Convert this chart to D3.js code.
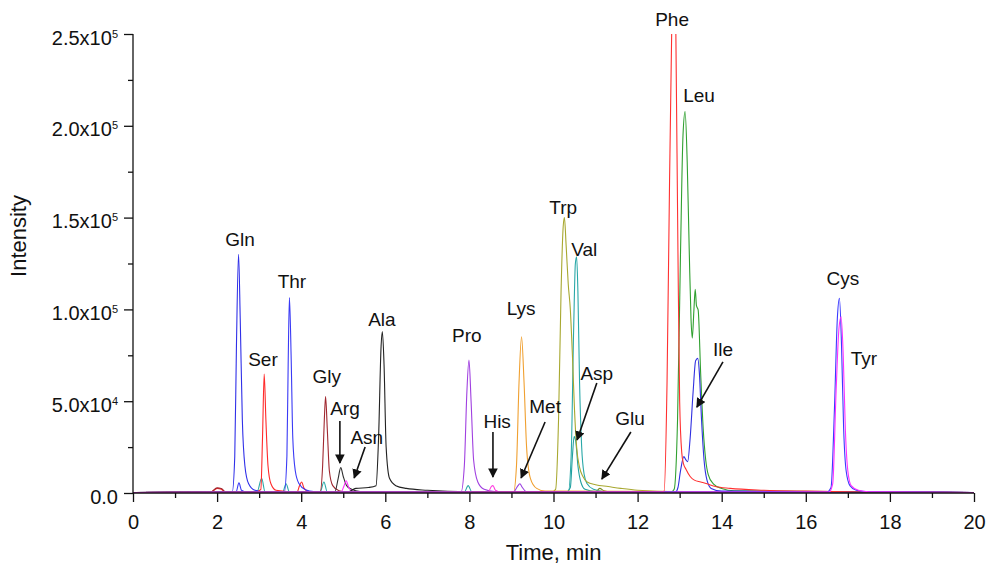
<!DOCTYPE html>
<html>
<head>
<meta charset="utf-8">
<script src="https://cdn.jsdelivr.net/npm/d3@7"></script>
<style>
  body { margin: 0; background: #fff; }
  svg { font-family: "Liberation Sans", Arial, sans-serif; }
  .trace { fill: none; stroke-width: 1.1; }
  .axis path, .axis line { stroke: #111; stroke-width: 1.3; }
  .axis text { font-size: 20px; fill: #111; }
  .peak-label { font-size: 19px; fill: #111; text-anchor: middle; }
  .arrow { stroke: #111; stroke-width: 1.6; }
</style>
</head>
<body>
<div id="vis"></div>
<script>
// time (min) vs intensity
var gln = [[0,300],[2.0,400],[2.36,600],[2.42,20000],[2.46,80000],[2.51,130000],[2.55,95000],[2.6,40000],[2.66,15000],[2.75,5000],[2.9,1500],[3.2,600],[20,300]];
var ser = [[0,300],[1.85,500],[2.0,2500],[2.1,2000],[2.2,500],[2.9,400],[3.04,2000],[3.08,30000],[3.12,64800],[3.16,40000],[3.21,15000],[3.28,5000],[3.4,1500],[3.9,500],[3.96,4000],[4.01,6000],[4.07,2500],[4.2,600],[20,300]];
var thr = [[0,300],[2.45,500],[2.52,5500],[2.58,1500],[2.7,600],[3.6,700],[3.66,20000],[3.69,70000],[3.72,106400],[3.76,75000],[3.8,30000],[3.86,12000],[3.95,5000],[4.1,1800],[4.3,800],[20,300]];
var gly = [[0,300],[1.85,500],[2.0,2800],[2.1,2500],[2.2,600],[4.45,700],[4.51,15000],[4.55,40000],[4.58,52500],[4.62,35000],[4.67,12000],[4.75,4000],[4.9,1200],[5.1,500],[20,300]];
var arg = [[0,300],[4.8,600],[4.88,8000],[4.94,13800],[5.0,9000],[5.08,4000],[5.2,2000],[5.4,800],[20,300]];
var asn = [[0,300],[4.95,500],[5.02,4000],[5.07,6700],[5.13,3000],[5.25,800],[20,300]];
var ala = [[0,300],[5.1,500],[5.3,2500],[5.6,3000],[5.78,4000],[5.84,30000],[5.9,80000],[5.93,87900],[5.97,70000],[6.02,25000],[6.1,8000],[6.25,4000],[6.5,2500],[7.0,1500],[8,700],[20,300]];
var pro = [[0,300],[7.8,500],[7.88,15000],[7.94,55000],[7.99,72400],[8.04,50000],[8.1,18000],[8.2,6000],[8.35,2000],[8.6,800],[20,300]];
var his = [[0,300],[8.45,600],[8.52,3500],[8.56,4000],[8.62,1500],[8.75,500],[20,300]];
var lys = [[0,300],[9.05,500],[9.12,15000],[9.18,60000],[9.24,85100],[9.3,60000],[9.36,25000],[9.45,8000],[9.6,2500],[9.8,1000],[20,300]];
var met = [[0,300],[9.05,500],[9.14,3500],[9.2,5000],[9.26,3000],[9.35,800],[20,300]];
var trp = [[0,300],[9.95,500],[10.05,2000],[10.12,40000],[10.18,110000],[10.23,145000],[10.26,150000],[10.3,135000],[10.35,114000],[10.4,100000],[10.45,75000],[10.5,45000],[10.55,25000],[10.62,14000],[10.7,9000],[10.8,6000],[11.0,4500],[11.3,3500],[11.6,2500],[12,1500],[13,800],[20,300]];
var val = [[0,300],[2.95,500],[3.06,8000],[3.14,600],[3.56,500],[3.64,5000],[3.72,500],[4.45,500],[4.54,6000],[4.62,600],[7.88,500],[7.97,4000],[8.06,500],[10.35,500],[10.42,20000],[10.48,90000],[10.52,125000],[10.55,128700],[10.58,110000],[10.62,60000],[10.67,25000],[10.73,10000],[10.8,5000],[10.95,2000],[11.2,800],[20,300]];
var asp = [[0,300],[10.3,500],[10.4,3000],[10.45,20000],[10.49,30700],[10.53,28000],[10.58,15000],[10.65,6000],[10.75,2000],[11,800],[20,300]];
var glu = [[0,300],[11.0,600],[11.1,2500],[11.2,1200],[11.4,500],[20,300]];
var phe = [[0,300],[12.5,600],[12.63,1000],[12.7,60000],[12.76,170000],[12.81,250000],[12.86,330000],[12.91,250000],[12.96,130000],[13.0,50000],[13.05,22000],[13.09,16000],[13.15,13000],[13.25,9000],[13.35,7000],[13.5,6000],[13.65,5000],[13.85,3500],[14.2,2500],[15,1500],[16,1000],[17,700],[18,500],[20,300]];
var leu = [[0,300],[12.8,500],[12.87,2000],[12.95,40000],[13.02,130000],[13.08,195000],[13.13,207700],[13.18,180000],[13.23,130000],[13.27,95000],[13.3,84400],[13.34,100000],[13.37,111000],[13.4,102000],[13.44,99700],[13.5,65000],[13.56,35000],[13.62,18000],[13.68,10000],[13.8,5000],[14,2500],[14.3,1200],[20,300]];
var ile = [[0,300],[12.9,500],[12.96,3000],[13.02,12000],[13.1,19800],[13.15,18000],[13.19,17000],[13.25,30000],[13.32,55000],[13.38,72000],[13.43,73300],[13.47,65000],[13.52,40000],[13.58,18000],[13.65,7000],[13.75,2500],[14,1000],[20,300]];
var cys = [[0,300],[16.5,500],[16.6,3000],[16.68,45000],[16.75,95000],[16.8,106000],[16.85,80000],[16.9,35000],[16.96,12000],[17.05,4000],[17.2,1500],[17.5,700],[20,300]];
var tyr = [[0,300],[16.55,500],[16.64,5000],[16.72,55000],[16.79,90000],[16.84,96000],[16.89,75000],[16.94,35000],[17.0,12000],[17.08,4000],[17.25,1500],[17.5,700],[20,300]];

var traceNames = ['Glu', 'Asp', 'Val', 'Trp', 'Gln', 'Ser', 'Thr', 'Gly', 'Arg', 'Asn', 'Ala', 'Pro', 'His', 'Lys', 'Met', 'Leu', 'Ile', 'Phe', 'Cys', 'Tyr'];
var traceData = { Gln: gln, Ser: ser, Thr: thr, Gly: gly, Arg: arg, Asn: asn, Ala: ala, Pro: pro, His: his, Lys: lys, Met: met,
  Trp: trp, Val: val, Asp: asp, Glu: glu, Phe: phe, Leu: leu, Ile: ile, Cys: cys, Tyr: tyr };

// peak labels: name, time, intensity (centre / baseline of the text)
var labelNames = ['Gln', 'Ser', 'Thr', 'Gly', 'Arg', 'Asn', 'Ala', 'Pro', 'His', 'Lys', 'Met', 'Asp', 'Glu', 'Trp', 'Val', 'Phe', 'Leu', 'Ile', 'Cys', 'Tyr'];
var labelTimes = [2.545, 3.09, 3.78, 4.61, 5.04, 5.56, 5.92, 7.94, 8.66, 9.23, 9.80, 11.03, 11.82, 10.23, 10.73, 12.82, 13.46, 14.03, 16.88, 17.38];
var labelIntensity = [134500, 69200, 111700, 59900, 42500, 26700, 91000, 82200, 35400, 97000, 43600, 61500, 37000, 152000, 129100, 254400, 213000, 74600, 113300, 69700];

// arrows: [t1, I1, t2, I2]
var arrows = [
  [4.92, 39200, 4.92, 16300],
  [5.52, 25100, 5.26, 8200],
  [8.56, 33200, 8.56, 8700],
  [9.80, 38700, 9.23, 8200],
  [11.03, 59900, 10.56, 28900],
  [11.84, 33200, 11.15, 7600],
  [14.03, 71400, 13.41, 46800]
];

var xMajor = [0, 2, 4, 6, 8, 10, 12, 14, 16, 18, 20];
var xMinor = [1, 3, 5, 7, 9, 11, 13, 15, 17, 19];
var yMajor = [0, 50000, 100000, 150000, 200000, 250000];
var yMinor = [25000, 75000, 125000, 175000, 225000];

var colors = {
  Gln: '#3030e8', Thr: '#3a3af5', Ile: '#3030e0', Cys: '#3a3aff',
  Ser: '#ff2a2a', Phe: '#ff3030', Gly: '#a02830',
  Arg: '#303030', Ala: '#222222',
  Asn: '#ff30ff', His: '#ff40e0', Tyr: '#ff30ff',
  Pro: '#a040e0', Met: '#9a40e0', Lys: '#f0a030', Trp: '#a8a830',
  Val: '#2aa8a8', Asp: '#20a0a0', Glu: '#7a8a20', Leu: '#30a030'
};

var width = 987, height = 567;
var margin = { top: 34, right: 13, bottom: 74, left: 133 };
var innerW = width - margin.left - margin.right;
var innerH = height - margin.top - margin.bottom;

var svg = d3.select('#vis').append('svg')
  .attr('width', width)
  .attr('height', height);

var g = svg.append('g').attr('transform', 'translate(' + margin.left + ',' + margin.top + ')');

var x = d3.scaleLinear().domain([0, 20]).range([0, innerW]);
var y = d3.scaleLinear().domain([0, 250000]).range([innerH, 0]);

svg.append('defs').append('clipPath').attr('id', 'plotclip')
  .append('rect').attr('x', 0).attr('y', 0).attr('width', innerW).attr('height', innerH + 1);

var defs = svg.select('defs');
defs.append('marker')
  .attr('id', 'head')
  .attr('viewBox', '0 0 10 10')
  .attr('refX', 9).attr('refY', 5)
  .attr('markerWidth', 6).attr('markerHeight', 6)
  .attr('markerUnits', 'strokeWidth')
  .attr('orient', 'auto')
  .append('path').attr('d', 'M0,0L10,5L0,10Z').attr('fill', '#111');

var line = d3.line()
  .x(function (d) { return x(d[0]); })
  .y(function (d) { return y(d[1]); })
  .curve(d3.curveMonotoneX);

g.append('g').attr('clip-path', 'url(#plotclip)')
  .selectAll('path')
  .data(traceNames)
  .enter().append('path')
  .attr('class', 'trace')
  .attr('stroke', function (d) { return colors[d]; })
  .attr('d', function (d) { return line(traceData[d]); });

// axes
var xAxis = g.append('g').attr('class', 'axis').attr('transform', 'translate(0,' + innerH + ')')
  .call(d3.axisBottom(x).tickValues(xMajor).tickSize(9).tickPadding(8).tickFormat(d3.format('d')));
g.append('g').attr('class', 'axis').attr('transform', 'translate(0,' + innerH + ')')
  .call(d3.axisBottom(x).tickValues(xMinor).tickSize(5).tickFormat(''))
  .select('.domain').remove();

var yAxis = g.append('g').attr('class', 'axis')
  .call(d3.axisLeft(y).tickValues(yMajor).tickSize(9).tickPadding(6).tickFormat(''));
g.append('g').attr('class', 'axis')
  .call(d3.axisLeft(y).tickValues(yMinor).tickSize(5).tickFormat(''))
  .select('.domain').remove();

xAxis.selectAll('.tick text').attr('dy', '0.95em');
xAxis.select('.domain').attr('d', 'M0,0H' + innerW);
yAxis.select('.domain').attr('d', 'M0,0V' + innerH);

// y tick labels like 2.5x10^5
var yLab = yAxis.selectAll('.tick').append('text')
  .attr('x', -15)
  .attr('dy', 10)
  .attr('text-anchor', 'end')
  .attr('fill', '#111');
yLab.each(function (d) {
  var t = d3.select(this);
  if (d === 0) {
    t.text('0.0');
    return;
  }
  var e = Math.floor(Math.log10(d));
  var m = d / Math.pow(10, e);
  t.append('tspan').text(m.toFixed(1) + 'x10');
  t.append('tspan').attr('dy', -7).style('font-size', '11px').text(e);
});

// axis titles
svg.append('text')
  .attr('x', margin.left + innerW / 2)
  .attr('y', 560)
  .attr('text-anchor', 'middle')
  .style('font-size', '22px')
  .attr('fill', '#111')
  .text('Time, min');

svg.append('text')
  .attr('transform', 'translate(26,' + 236 + ') rotate(-90)')
  .attr('text-anchor', 'middle')
  .style('font-size', '22px')
  .attr('fill', '#111')
  .text('Intensity');

// peak labels
g.selectAll('.peak-label')
  .data(labelNames)
  .enter().append('text')
  .attr('class', 'peak-label')
  .attr('x', function (d, i) { return x(labelTimes[i]); })
  .attr('y', function (d, i) { return y(labelIntensity[i]); })
  .text(function (d) { return d; });

g.selectAll('.arrow')
  .data(arrows)
  .enter().append('line')
  .attr('class', 'arrow')
  .attr('x1', function (d) { return x(d[0]); })
  .attr('y1', function (d) { return y(d[1]); })
  .attr('x2', function (d) { return x(d[2]); })
  .attr('y2', function (d) { return y(d[3]); })
  .attr('marker-end', 'url(#head)');
</script>
</body>
</html>
